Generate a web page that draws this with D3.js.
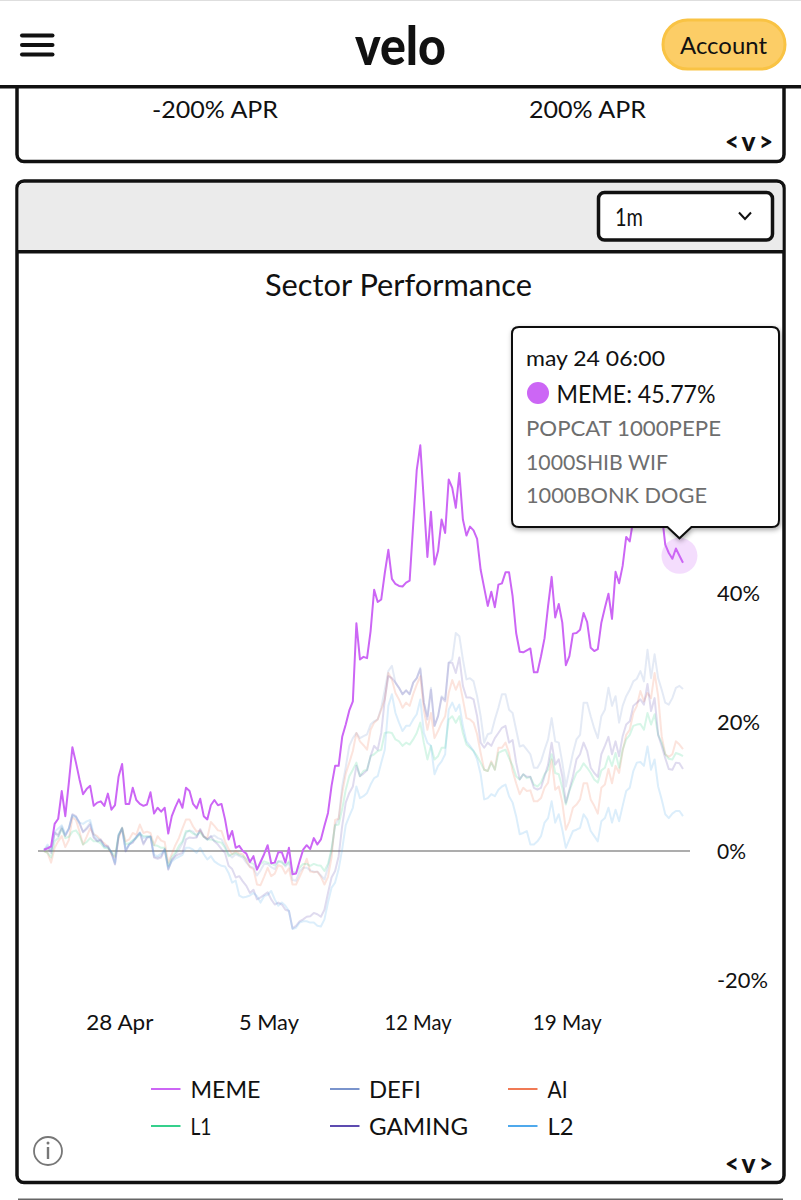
<!DOCTYPE html>
<html>
<head>
<meta charset="utf-8">
<script src="https://cdn.jsdelivr.net/npm/d3@7"></script>
<style>
  html, body { margin: 0; padding: 0; background: #fff; }
  svg { display: block; font-family: Lato, sans-serif; }
</style>
</head>
<body>
<svg id="page" width="801" height="1200"></svg>
<script>
// Sector returns in percent, one reading every four hours.
const memeValues = [
  0.2,0.4,0.7,4.2,5.0,9.3,5.4,10.6,16.1,13.7,
  11.1,8.8,9.6,10.1,7,7.5,7.7,7,8.9,6.4,
  7.1,11.5,13.5,7.3,7.3,9.8,7.9,7.3,7,7.2,
  9.1,5.8,6.7,6.1,6.7,2.7,5.4,6.8,8,6.7,
  9.8,9.3,7.3,6.6,8.1,5.4,4.9,7.1,7.9,7.1,
  7.3,4.9,1.8,3.1,0.5,0.8,0,-0.4,-1.7,-0.8,
  -2.9,-1.7,-0.5,0.9,-1.9,-1.8,-0.2,-0.2,-1.8,0.5,
  -3.6,-3.5,-1.6,0.2,0.9,0.3,2,1,1.8,3.9,
  5.9,10.1,13.2,13.2,17.7,19.6,21.8,23.2,35.3,29.7,
  30.1,29.9,34.1,40.5,38.6,39,43.1,46.7,42.2,41.4,
  41.1,41,41.6,41.9,50.6,59.1,62.9,54.2,45.6,52.6,
  44.4,46.5,51.4,49.3,57.6,56.3,53.2,58.6,51.4,48.9,
  50.3,49.7,48.4,43.6,40.8,38,40.2,37.8,41.3,41.5,
  43.2,43.2,39.5,33.8,30.9,30.8,31.1,31.4,27.7,27.7,
  30.2,33,38,42.5,36.2,38.3,35.4,28.8,30.2,33.7,
  33.8,34.3,36.9,35.5,31.5,31,31.3,35.4,37.7,39.9,
  36,43.3,41.5,44.2,48.7,48,51.4,53.5,56,57.6,
  59.1,60.2,59.7,58.6,52.4,47.5,46.2,45.3,46.9,45.77,
  44.7
];
const defiValues = [
  0.1,0.7,0,2.8,2.6,3.8,2.4,3.5,5.6,5.3,
  4.2,3,3.6,4.4,2.2,1.6,1.6,0.8,0.6,-0.3,
  -2,2.4,3.5,-0.1,1,1.4,2.2,2.8,1.2,2,
  2.2,-0.9,-1,-0.8,0.3,-2.8,-1.5,-0.6,0.2,1.2,
  2.8,3.2,3,2.2,3.2,2.2,1.8,2.2,2.4,2,
  1.8,0.8,-0.5,-1,-0.5,-0.8,-1,-1.8,-2.4,-2.6,
  -3.8,-3,-2,-2,-2.5,-2.8,-1.6,-1.6,-2.4,-1.8,
  -4.5,-4.6,-3.2,-2.6,-2.6,-3,-3.2,-3.2,-3.8,-4.4,
  -2.5,0,4,5,10,13,16.3,17.5,18.3,17.5,
  17.8,18.1,19.6,20.1,20.4,22.2,25,27.9,28.7,26.1,
  25.3,24.3,24.9,24.3,26.1,26.8,28.4,23,20.9,25.3,
  19.4,20.9,24,23.5,29.2,29.7,33.8,33.3,29.7,26.6,
  26.8,26.3,24,20.9,16.8,18.1,18.3,20.4,22.2,24.3,
  24.3,21.9,21.4,18.8,16.2,16.4,15.7,15,12.9,12.9,
  13.9,15.7,17.3,20.6,17,16.8,13.7,10,12.6,15.2,
  17.3,18,23,23,20.9,19,17.5,20.9,21.9,25.3,
  22.5,24,19.9,22.5,24,25,26.3,26.7,27.9,26.3,
  31.2,26.8,30.5,26.8,25,23,22.7,23.7,25.3,25.6,
  25.1
];
const aiValues = [
  0,-0.3,-1.8,0.5,1.5,2.3,0.6,1.7,5.2,4.8,
  3,1,2.2,3.5,2.6,2.3,1.6,1.2,0.6,-0.5,
  -1,2,3.5,1.5,1.8,2.8,2.5,4.1,2.8,3,
  2.8,0.9,2.3,1.6,1.4,-1.8,-0.5,0.9,2,3.5,
  4.9,4.9,3.8,3,3.2,2.2,2,4.5,3.9,3.2,
  3.1,1.5,0.3,-0.5,0,-0.4,-0.5,-1.5,-2.5,-2.8,
  -5.2,-5.3,-4,-2.6,-3.9,-3.5,-2.2,-2.4,-3.5,-2.7,
  -5.2,-5.2,-4,-2.8,-1.2,-3.2,-3.3,-3.2,-4,-5.2,
  -4,-1,4.8,5,9,12,13.7,15.5,18.3,17,
  16.4,15.7,18.8,19.9,20.4,21.9,23.5,27.6,26.6,24.5,
  23.5,22.2,23,22.5,24.3,25.8,27.1,21.9,18.8,21.4,
  17.5,18.6,19.9,20.9,24.5,26.5,25,26.3,23.5,20.6,
  20.4,19.9,18.1,15.2,12.6,12.4,13.9,12.6,16,16,
  16.8,15.2,12.4,10.5,8.8,9.8,9.3,9.4,7.7,7.7,
  8.2,9.8,10.6,14.2,9.5,10,7.5,3.3,4.6,6.7,
  7.2,8,10.5,10.5,8,7,5.8,9.8,10.3,12.7,
  10.5,13.2,12.1,15.5,18,18.8,21.4,22.5,24.8,23.2,
  24.5,23.7,27.6,24,17.8,15,14.6,15,17,16.5,
  15.8
];
const l1Values = [
  0,-0.3,-1,1.5,2,3.5,2,2.2,3,3.2,
  2.4,1,1.4,2,1.5,1.5,1.2,0.5,0.4,-0.2,
  -0.8,2.4,3.6,1,1.2,1.6,2,2.6,2.3,2.3,
  2.2,0.9,0.8,0.5,0.5,-2.3,-0.9,-0.3,0.8,1.5,
  3.1,3.1,2.7,2.5,2.9,2.2,1.8,1.8,1.6,1.4,
  1.3,0.5,-0.8,-0.5,-0.3,-0.6,-0.8,-1.2,-1.8,-2,
  -2.8,-2,-1.6,-1.8,-2,-2.2,-1.6,-1.8,-2.2,-1.6,
  -3.2,-3.4,-2.6,-2,-2,-2.3,-2,-2.2,-2.3,-3.1,
  -2,0.3,4,4.1,6.5,9.5,11.6,12.6,13.7,11.6,
  12.4,12.6,14.7,15,15.5,15.7,18.3,18.4,18.3,17.3,
  17,16.3,16.8,16.5,17.3,18.3,19.9,16.8,14.2,16.3,
  14.2,14.7,16,16,20.4,20.9,19.9,20.9,18.3,16.5,
  16,15.5,14.7,13.7,12.6,12.4,13.7,12.6,15.2,15.5,
  15.7,14.4,13.2,11.6,11.1,11.9,11.3,11.5,10.3,10,
  10.6,11.9,12.6,15,12.1,11.9,9.8,7.2,9.3,10.8,
  12.1,12.6,13.6,12.9,12.1,11.1,10.6,12.5,12.9,14.7,
  13.2,15.2,12.9,15.7,17.3,18,19.4,19.6,19.7,18.8,
  21.4,19.6,21.2,18,16.8,15,14.3,14.2,15.2,15,
  14.7
];
const gamingValues = [
  0.2,0.5,-0.3,2.9,2.3,3.5,2.3,3.4,5.7,5.4,
  4.4,2.9,3.4,4.1,2.1,1.5,1.8,0.8,0.8,-0.3,
  -2.1,2.3,3.6,0,1,1.3,2.1,2.8,1,2.1,
  2.3,-1,-1.2,-1,0.3,-2.9,-1.3,-0.8,-0.5,-0.3,
  1.8,2.1,2,2.1,3.4,2.3,1.8,2.3,1.5,1,
  0.3,-0.3,-2.3,-2.8,-4.1,-3.9,-4.7,-5.4,-6.5,-6,
  -7.5,-7.2,-6.8,-6.4,-7.5,-8.3,-8,-8.3,-9.1,-9.3,
  -12,-11.6,-10.9,-10.6,-10.2,-10.1,-9.6,-9.8,-10.2,-9.1,
  -6.5,-4.1,-3.1,-0.8,3.9,7.5,9,10,13.2,11.6,
  12,12.5,14.7,16.3,15.7,18.3,23.5,27.1,26.8,26.1,
  25.3,24.3,24.9,24.3,26.1,26.8,28.2,23,20.4,25,
  19.4,20.9,23.8,23.2,29.2,29.2,27.6,30,25.6,23.8,
  23.8,23.5,20.9,16.8,16,16.8,16.3,17.5,18.3,19.1,
  19.4,16.8,17.2,13.7,11.1,11.9,11.5,11.5,9.8,9.5,
  9.8,11.6,13.4,16.8,13.4,14.2,11.6,7.5,9.5,11.6,
  14.2,15,16.8,15.5,12.9,12.1,11.5,15,16.3,17.7,
  15,17,14.7,17.8,19.6,20.1,22.5,23,23.5,22.7,
  25.9,21.7,23.7,18,16.3,14.4,12.7,12.6,13.7,13.6,
  12.7
];
const l2Values = [
  0.1,1,0.2,3,3.5,4,2.6,3.5,5.5,5.2,
  4.4,4.2,4.6,4.8,2.6,2,1.6,0.6,0.6,-0.2,
  -1.8,2.6,3.4,0.3,1,1.6,2.2,2.9,2,2.2,
  2.2,-0.6,-0.8,-0.4,0.2,-2.6,-1.6,-1.2,-0.9,-0.6,
  0.5,0.5,0.2,-0.3,0.5,-0.5,-1.3,-0.8,-1.6,-2,
  -2.3,-2.4,-3.4,-4.9,-4.6,-6.9,-7.2,-7.1,-6.9,-6.5,
  -7,-8,-7,-6.8,-6.2,-7.5,-8.5,-8,-8.5,-9.3,
  -12.1,-11.9,-11.1,-10.9,-10.9,-11.1,-11.1,-11.6,-11.7,-10.6,
  -8,-5.7,-4.9,-2.8,0.3,4,5.4,6.7,10,8.2,
  8.5,9,10.3,11.3,11.6,13.7,15.7,22.5,24.3,21.4,
  19.9,18.6,19.4,19.4,20.4,21.2,23.5,18.3,16.8,16.3,
  11.9,13.2,13.9,15,21.9,23,21.7,22.7,19.4,17,
  16.3,15.5,14.2,11.9,8,8.2,8.8,8.5,9.5,10,
  10.3,8.5,7.5,5.4,2.6,2.8,3.1,1,1,1.5,
  2.3,4.4,5.1,7.7,4.4,5.7,3.3,0.5,1.8,3.1,
  3.3,3.6,5.7,4.9,3.1,2.3,1.5,4.6,5.1,6.7,
  4.4,6.4,4.6,7,9.3,9.8,12.4,13.7,13.8,13.2,
  16.2,12.6,14.2,10,8,5.7,5.1,5.8,6.2,6.2,
  5.4
];

const seriesNames = ["MEME", "DEFI", "AI", "L1", "GAMING", "L2"];
const seriesColors = ["#cc66f5", "#7a94cc", "#f07a55", "#35d08c", "#5d4bb0", "#4fa9ec"];
const seriesValues = [memeValues, defiValues, aiValues, l1Values, gamingValues, l2Values];

const yTickValues = [-20, 0, 20, 40];
const xTickLabels = ["28 Apr", "5 May", "12 May", "19 May"];
const xTickDates = [Date.UTC(2024,3,28), Date.UTC(2024,4,5), Date.UTC(2024,4,12), Date.UTC(2024,4,19)];

const startTime = Date.UTC(2024, 3, 24, 10);
const stepMs = 4 * 3600 * 1000;
const hoverIndex = 179;
const tooltipConstituents = ["POPCAT 1000PEPE", "1000SHIB WIF", "1000BONK DOGE"];

const svg = d3.select("#page");
const INK = "#111";

// Text helper: the width argument keeps labels at a fixed measure.
function label(parent, x, y, str, size, opts = {}) {
  const t = parent.append("text")
    .attr("x", x).attr("y", y - 1)
    .attr("dominant-baseline", "central")
    .attr("font-size", size)
    .attr("fill", opts.fill || INK)
    .attr("font-weight", opts.weight || 400)
    .attr("text-anchor", opts.anchor || "start")
    .text(str);
  if (opts.width) t.attr("textLength", opts.width).attr("lengthAdjust", "spacingAndGlyphs");
  return t;
}

function moreLess(y) {
  label(svg, 725, y, "<", 27, { weight: 900, width: 14 });
  label(svg, 741.5, y, "v", 27, { weight: 900, width: 14 });
  label(svg, 759, y, ">", 27, { weight: 900, width: 14 });
}

/* ---------- page chrome ---------- */
svg.append("rect").attr("width", 801).attr("height", 1).attr("fill", "#dedede");

// previous card, cut off by the header
svg.append("rect").attr("x", 17).attr("y", 60).attr("width", 767).attr("height", 101.5)
  .attr("rx", 7).attr("fill", "#fff").attr("stroke", INK).attr("stroke-width", 3.5);
label(svg, 152, 109, "-200% APR", 24, { width: 126 });
label(svg, 529, 109, "200% APR", 24, { width: 117 });
moreLess(141);

// app header
svg.append("rect").attr("y", 1).attr("width", 801).attr("height", 84).attr("fill", "#fff");
svg.append("rect").attr("y", 85).attr("width", 801).attr("height", 3.5).attr("fill", INK);
[35.5, 45, 54.5].forEach(y => svg.append("line")
  .attr("x1", 22).attr("x2", 52.5).attr("y1", y).attr("y2", y)
  .attr("stroke", INK).attr("stroke-width", 4).attr("stroke-linecap", "round"));
label(svg, 400.5, 45, "velo", 54, { anchor: "middle", weight: 900, width: 91 });
svg.append("rect").attr("x", 663).attr("y", 20).attr("width", 122).attr("height", 49)
  .attr("rx", 24.5).attr("fill", "#fccd66").attr("stroke", "#f9c344").attr("stroke-width", 3);
label(svg, 723.5, 45, "Account", 24, { anchor: "middle", width: 87 });

/* ---------- chart card ---------- */
svg.append("rect").attr("x", 17).attr("y", 181).attr("width", 767).attr("height", 1001.5)
  .attr("rx", 7).attr("fill", "#fff").attr("stroke", INK).attr("stroke-width", 3.5);
svg.append("path").attr("d", "M18.5 251 V189 Q18.5 183 24 183 H777 Q782.5 183 782.5 189 V251 Z")
  .attr("fill", "#ebebeb");
svg.append("rect").attr("x", 17).attr("y", 250).attr("width", 767).attr("height", 3.5).attr("fill", INK);
svg.append("rect").attr("x", 598.5).attr("y", 192.5).attr("width", 174).attr("height", 47.5)
  .attr("rx", 6).attr("fill", "#fff").attr("stroke", INK).attr("stroke-width", 3.5);
label(svg, 615, 217, "1m", 25, { width: 28 });
svg.append("path").attr("d", "M739 212.5 L745 219 L751 212.5")
  .attr("fill", "none").attr("stroke", INK).attr("stroke-width", 2);
label(svg, 398.5, 285, "Sector Performance", 30, { anchor: "middle", width: 267 });

/* ---------- scales and axes ---------- */
const x = d3.scaleUtc()
  .domain([startTime, startTime + 180 * stepMs])
  .range([44, 683]);
const y = d3.scaleLinear().domain([-20, 40]).range([980, 593]);

const xAxis = d3.axisBottom(x)
  .tickValues(xTickDates)
  .tickSize(0)
  .tickFormat((d, i) => xTickLabels[i]);
const yAxis = d3.axisRight(y)
  .tickValues(yTickValues)
  .tickSize(0)
  .tickFormat(d => d + "%");

const xG = svg.append("g").attr("transform", "translate(-1,1012)").call(xAxis);
xG.select(".domain").remove();
xG.selectAll("text").attr("font-size", 21).attr("fill", INK).attr("font-family", "Lato").attr("dy", 0)
  .attr("y", 9.5).attr("dominant-baseline", "central").attr("textLength", (d, i) => [67, 60, 67, 69][i])
  .attr("lengthAdjust", "spacingAndGlyphs");

const yG = svg.append("g").attr("transform", "translate(717,-0.5)").call(yAxis);
yG.select(".domain").remove();
yG.selectAll("text").attr("font-size", 21.5).attr("fill", INK).attr("font-family", "Lato")
  .attr("x", 0).attr("dy", 0).attr("dominant-baseline", "central")
  .attr("textLength", d => d === 0 ? 29 : d < 0 ? 51 : 43).attr("lengthAdjust", "spacingAndGlyphs");

svg.append("line").attr("x1", 38).attr("x2", 690)
  .attr("y1", y(0)).attr("y2", y(0))
  .attr("stroke", "#adadad").attr("stroke-width", 2);

/* ---------- series ---------- */
const line = d3.line()
  .x((d, i) => x(startTime + i * stepMs))
  .y(d => y(d));

const order = [1, 2, 3, 4, 5, 0];
svg.append("g").selectAll("path").data(order).join("path")
  .attr("d", k => line(seriesValues[k]))
  .attr("fill", "none")
  .attr("stroke", k => seriesColors[k])
  .attr("stroke-width", 2)
  .attr("stroke-opacity", k => k === 0 ? 1 : 0.2)
  .attr("stroke-linejoin", "round");

// highlighted point under the tooltip
const hoverX = x(startTime + hoverIndex * stepMs);
const hoverY = y(memeValues[hoverIndex]);
svg.append("circle").attr("cx", hoverX).attr("cy", hoverY).attr("r", 18)
  .attr("fill", seriesColors[0]).attr("fill-opacity", 0.22);

/* ---------- tooltip ---------- */
const defs = svg.append("defs");
const shadow = defs.append("filter").attr("id", "tipShadow")
  .attr("x", "-10%").attr("y", "-10%").attr("width", "120%").attr("height", "125%");
shadow.append("feDropShadow").attr("dx", 1).attr("dy", 2).attr("stdDeviation", 2.5)
  .attr("flood-color", "#000").attr("flood-opacity", 0.35);

const tipL = 512, tipR = 779, tipT = 327, tipB = 527, r = 7;
const tipPath = `M${tipL + r} ${tipT} H${tipR - r} Q${tipR} ${tipT} ${tipR} ${tipT + r}
  V${tipB - r} Q${tipR} ${tipB} ${tipR - r} ${tipB} H${hoverX + 12} L${hoverX} ${hoverY - 17.5} L${hoverX - 12} ${tipB}
  H${tipL + r} Q${tipL} ${tipB} ${tipL} ${tipB - r} V${tipT + r} Q${tipL} ${tipT} ${tipL + r} ${tipT} Z`;
svg.append("path").attr("d", tipPath).attr("fill", "#fff")
  .attr("stroke", INK).attr("stroke-width", 2).attr("filter", "url(#tipShadow)");

label(svg, 526, 358, "may 24 06:00", 22, { width: 139 });
svg.append("circle").attr("cx", 538).attr("cy", 393).attr("r", 11).attr("fill", seriesColors[0]);
label(svg, 556.5, 394, `${seriesNames[0]}: ${memeValues[hoverIndex].toFixed(2)}%`, 25, { width: 159 });
[[428, 195], [462, 142], [495, 181]].forEach(([ty, w], i) =>
  label(svg, 526, ty, tooltipConstituents[i], 22, { fill: "#6e6e6e", width: w }));

/* ---------- legend ---------- */
const legendCols = [[151, 190.5], [330, 369], [508, 547.5]];
const legendRows = [1089, 1126];
const legendWidths = [70, 52, 20, 21, 99, 26];
seriesNames.forEach((name, i) => {
  const [lx, tx] = legendCols[i % 3];
  const ly = legendRows[Math.floor(i / 3)];
  svg.append("line").attr("x1", lx).attr("x2", lx + 29.5).attr("y1", ly).attr("y2", ly)
    .attr("stroke", seriesColors[i]).attr("stroke-width", 2);
  label(svg, tx, ly, name, 24, { width: legendWidths[i] });
});

/* ---------- card footer ---------- */
svg.append("circle").attr("cx", 48).attr("cy", 1151).attr("r", 14)
  .attr("fill", "none").attr("stroke", "#777").attr("stroke-width", 1.8);
svg.append("line").attr("x1", 48).attr("x2", 48).attr("y1", 1147).attr("y2", 1159)
  .attr("stroke", "#777").attr("stroke-width", 2.4);
svg.append("circle").attr("cx", 48).attr("cy", 1143).attr("r", 1.5).attr("fill", "#777");
moreLess(1163);

// top edge of the next card
svg.append("rect").attr("x", 18).attr("y", 1198.5).attr("width", 765).attr("height", 1.5).attr("fill", "#666");
</script>
</body>
</html>
